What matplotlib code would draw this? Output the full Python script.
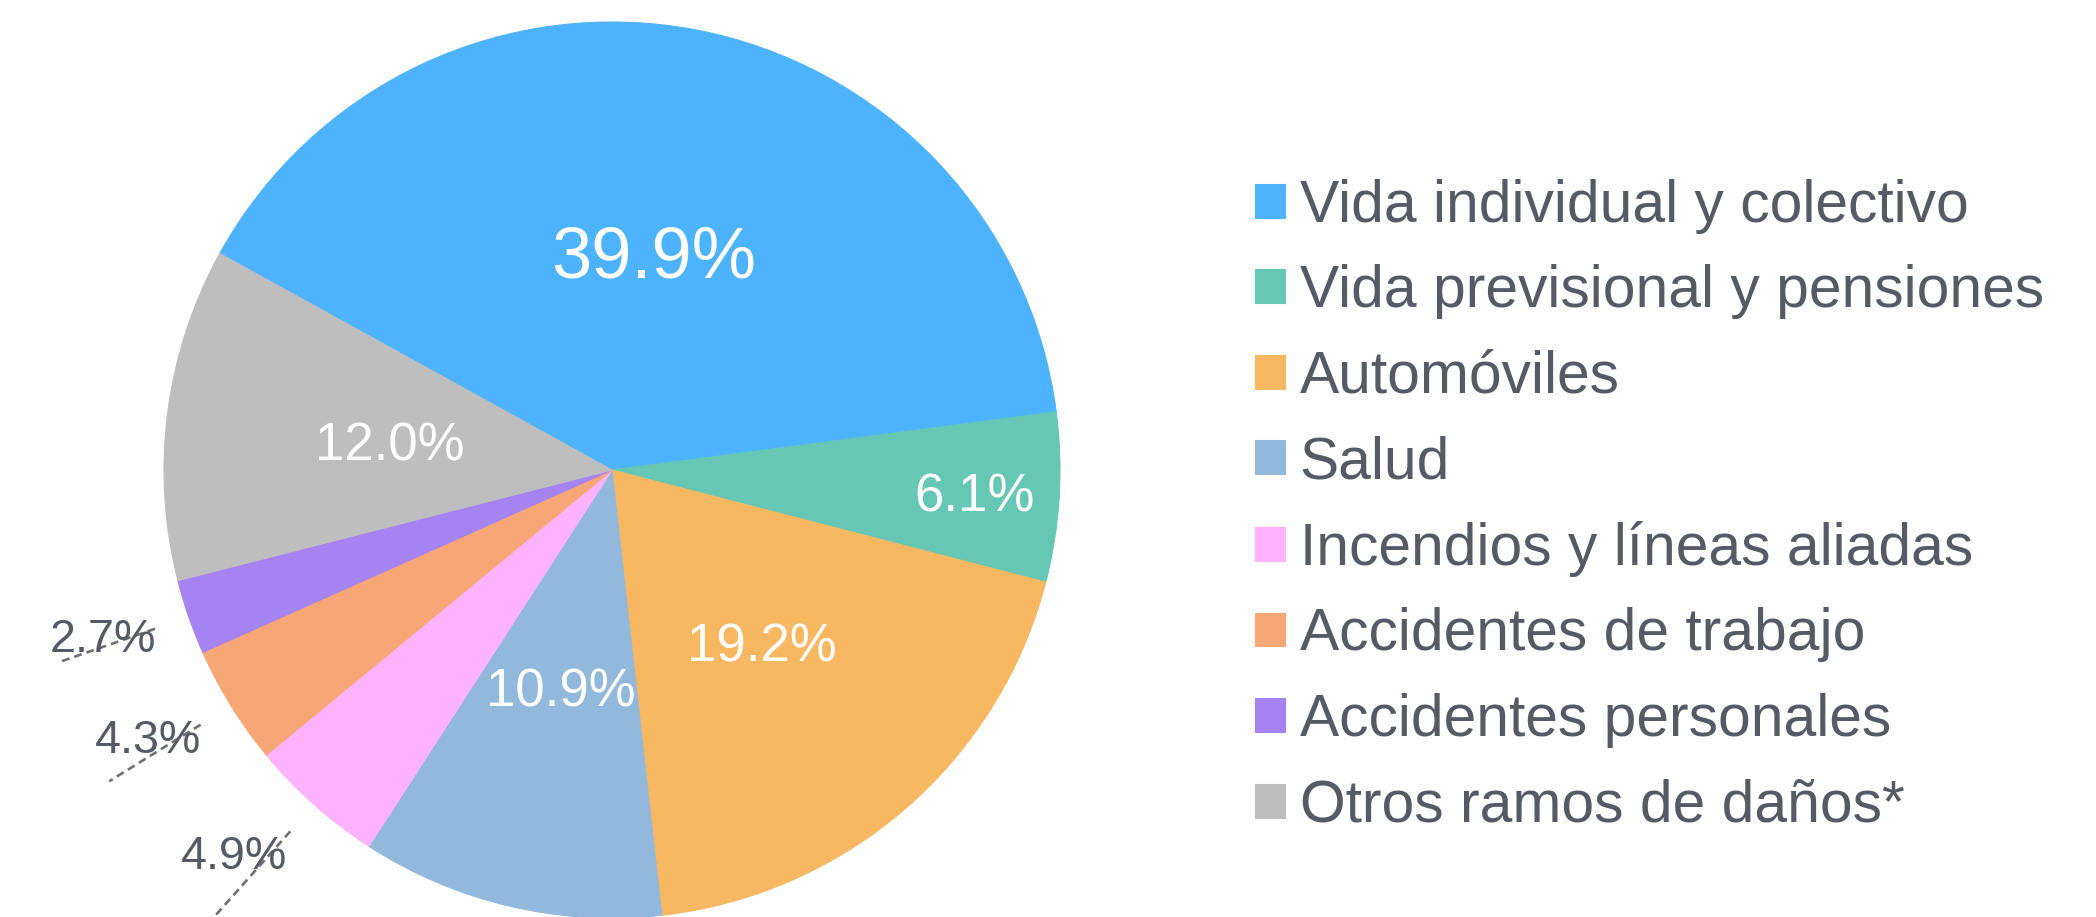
import matplotlib
matplotlib.use('Agg')
import matplotlib.pyplot as plt
import numpy as np

categories = ["Vida individual y colectivo", "Vida previsional y pensiones",
              "Automóviles", "Salud", "Incendios y líneas aliadas",
              "Accidentes de trabajo", "Accidentes personales",
              "Otros ramos de daños*"]
shares = [39.9, 6.1, 19.2, 10.9, 4.9, 4.3, 2.7, 12.0]
colors = ["#4DB3FF", "#66C8B4", "#F8B862", "#92B8DC", "#FFB3FF",
          "#F7A676", "#A683F3", "#BEBEBE"]

plt.rcParams['font.family'] = ['Liberation Sans', 'DejaVu Sans']
TEXT = '#555A64'
W, H = 2096, 917
fig = plt.figure(figsize=(W / 100, H / 100), dpi=100)
ax = fig.add_axes([0, 0, 1, 1])
R = 448
cx, cy = 612, H - 470
wedges, _ = ax.pie(shares, colors=colors, startangle=151.1, counterclock=False,
                   radius=R, center=(cx, cy),
                   wedgeprops=dict(linewidth=0.8))
for w, c in zip(wedges, colors):
    w.set_edgecolor(c)
ax.set_xlim(0, W)
ax.set_ylim(0, H)
ax.set_aspect('equal')
ax.axis('off')

label_r = [0.495, 0.81, 0.51, 0.5, 1.2, 1.195, 1.195, 0.5]
label_dang = [0, 0, 0, 0, -3.0, -1.9, -1.2, 0]
line_end = [0, 0, 0, 0, 1.35, 1.32, 1.305, 0]
label_fs = [52, 38, 38, 38, 33.6, 33.6, 33.6, 38]
outside = [False, False, False, False, True, True, True, False]
for w, v, rf, da, le, fs, out in zip(wedges, shares, label_r, label_dang,
                                     line_end, label_fs, outside):
    mid = (w.theta1 + w.theta2) / 2
    if out:
        a = np.deg2rad(mid)
        ax.plot([cx + 1.08 * R * np.cos(a), cx + le * R * np.cos(a)],
                [cy + 1.08 * R * np.sin(a), cy + le * R * np.sin(a)],
                color='#707070', lw=1.9, dashes=(3.0, 1.9), zorder=3)
    a = np.deg2rad(mid + da)
    yb = cy + rf * R * np.sin(a) - 0.358 * fs * 100 / 72
    ax.text(cx + rf * R * np.cos(a), yb, f"{v:.1f}%", ha='center', va='baseline',
            fontsize=fs, color=(TEXT if out else 'white'), zorder=4)

ax.legend(wedges, categories, loc='center left',
          bbox_to_anchor=(1255 / W, 1 - 506 / H), bbox_transform=fig.transFigure,
          frameon=False, fontsize=42.3, handlelength=0.51, handleheight=0.51,
          handletextpad=0.25, labelspacing=0.52, borderpad=0, borderaxespad=0,
          labelcolor=TEXT)

fig.savefig('out.png', dpi=100)
